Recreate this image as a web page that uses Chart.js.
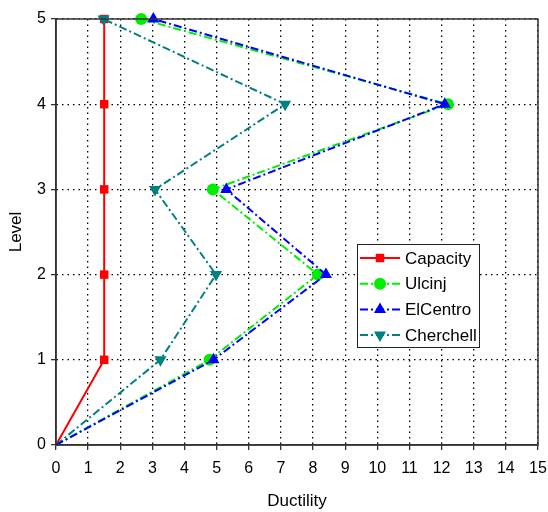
<!DOCTYPE html>
<html>
<head>
<meta charset="utf-8">
<script src="https://cdn.jsdelivr.net/npm/chart.js@4"></script>
<style>
  html, body { margin: 0; padding: 0; background: #fff; }
  #wrap { width: 548px; height: 512px; position: relative; }
</style>
</head>
<body>
<div id="wrap"><canvas id="chart"></canvas></div>
<script>
// Storey levels and ductility demand per series
const levels = [0, 1, 2, 3, 4, 5];
const capacity = [0, 1.5, 1.5, 1.5, 1.5, 1.5];
const ulcinj = [0, 4.78, 8.15, 4.88, 12.2, 2.65];
const elCentro = [0, 4.9, 8.4, 5.3, 12.1, 3.03];
const cherchell = [0, 3.25, 4.98, 3.08, 7.13, 1.48];
const xTicks = [0, 15];
const yTicks = [0, 5];

(function(){
  const ctx = document.getElementById('chart');
  const dashDot = [8, 3, 2, 3];

  const pts = vals => vals.map((v, i) => ({ x: v, y: levels[i] }));

  const series = [
    { label: 'Capacity', data: pts(capacity), color: '#ff0000', dash: [], style: 'rect', rot: 0, r: 6, order: 3 },
    { label: 'Ulcinj', data: pts(ulcinj), color: '#00ee00', dash: dashDot, style: 'circle', rot: 0, r: 6, order: 1 },
    { label: 'ElCentro', data: pts(elCentro), color: '#0000ff', dash: dashDot, style: 'triangle', rot: 0, r: 7, order: 0 },
    { label: 'Cherchell', data: pts(cherchell), color: '#008080', dash: dashDot, style: 'triangle', rot: 180, r: 7, order: 2 }
  ];

  const datasets = series.map(s => ({
    label: s.label,
    data: s.data,
    borderColor: s.color,
    backgroundColor: s.color,
    borderWidth: 2,
    borderDash: s.dash,
    pointStyle: s.style,
    pointRotation: s.rot,
    pointRadius: s.data.map((p, i) => i === 0 ? 0 : s.r),
    pointBorderWidth: 0,
    tension: 0,
    order: s.order,
    clip: false
  }));

  // top/right frame of the plot box
  const framePlugin = {
    id: 'frame',
    afterDatasetsDraw(chart){
      const { ctx, chartArea: a } = chart;
      ctx.save();
      ctx.setLineDash([]);
      ctx.strokeStyle = '#333';
      ctx.lineWidth = 1.5;
      ctx.strokeRect(a.left, a.top, a.right - a.left, a.bottom - a.top);
      ctx.restore();
    }
  };

  // legend box sitting inside the plot
  const boxLegend = {
    id: 'boxLegend',
    afterDraw(chart){
      const c = chart.ctx;
      const x0 = 357, y0 = 244, w = 122, h = 103;
      c.save();
      c.fillStyle = '#fff';
      c.fillRect(x0, y0, w, h);
      c.strokeStyle = '#222';
      c.lineWidth = 1;
      c.strokeRect(x0 + 0.5, y0 + 0.5, w, h);
      c.font = '17px "Liberation Sans", Arial, sans-serif';
      c.textBaseline = 'middle';
      series.forEach((s, i) => {
        const y = 258 + i * 25.7;
        c.strokeStyle = s.color;
        c.lineWidth = 2;
        c.setLineDash(s.dash);
        c.beginPath();
        c.moveTo(360, y);
        c.lineTo(400, y);
        c.stroke();
        c.setLineDash([]);
        c.fillStyle = s.color;
        Chart.helpers.drawPoint(c, { pointStyle: s.style, rotation: s.rot, radius: s.r, borderWidth: 0 }, 380, y);
        c.fillStyle = '#000';
        c.fillText(s.label, 405, y + 1);
      });
      c.restore();
    }
  };

  const tickFont = { family: '"Liberation Sans", Arial, sans-serif', size: 16 };
  const titleFont = { family: '"Liberation Sans", Arial, sans-serif', size: 17 };
  const grid = {
    color: '#000',
    lineWidth: 1.3,
    tickColor: '#333',
    tickBorderDash: [],
    tickLength: 5,
    drawOnChartArea: true
  };
  const border = { display: true, color: '#333', width: 1.5, dash: [1.5, 4] };

  new Chart(ctx, {
    type: 'line',
    data: { datasets },
    options: {
      responsive: true,
      maintainAspectRatio: false,
      animation: false,
      layout: { padding: { top: 19, right: 10, left: 0, bottom: 0 } },
      plugins: { legend: { display: false }, tooltip: { enabled: false } },
      scales: {
        x: {
          type: 'linear',
          min: xTicks[0], max: xTicks[1],
          ticks: { stepSize: 1, color: '#000', font: tickFont, padding: 9, maxRotation: 0 },
          grid,
          border,
          title: { display: true, text: 'Ductility', color: '#000', font: titleFont, padding: { top: 4, bottom: 0 } },
          afterFit(scale){ scale.height = 67; scale.paddingLeft = 0; scale.paddingRight = 0; }
        },
        y: {
          type: 'linear',
          min: yTicks[0], max: yTicks[1],
          ticks: { stepSize: 1, color: '#000', font: tickFont, padding: 5 },
          grid,
          border,
          title: { display: true, text: 'Level', color: '#000', font: titleFont, padding: { top: 6, bottom: 0 } },
          afterFit(scale){ scale.width = 56; scale.paddingTop = 0; scale.paddingBottom = 0; }
        }
      }
    },
    plugins: [framePlugin, boxLegend]
  });
})();
</script>
</body>
</html>
